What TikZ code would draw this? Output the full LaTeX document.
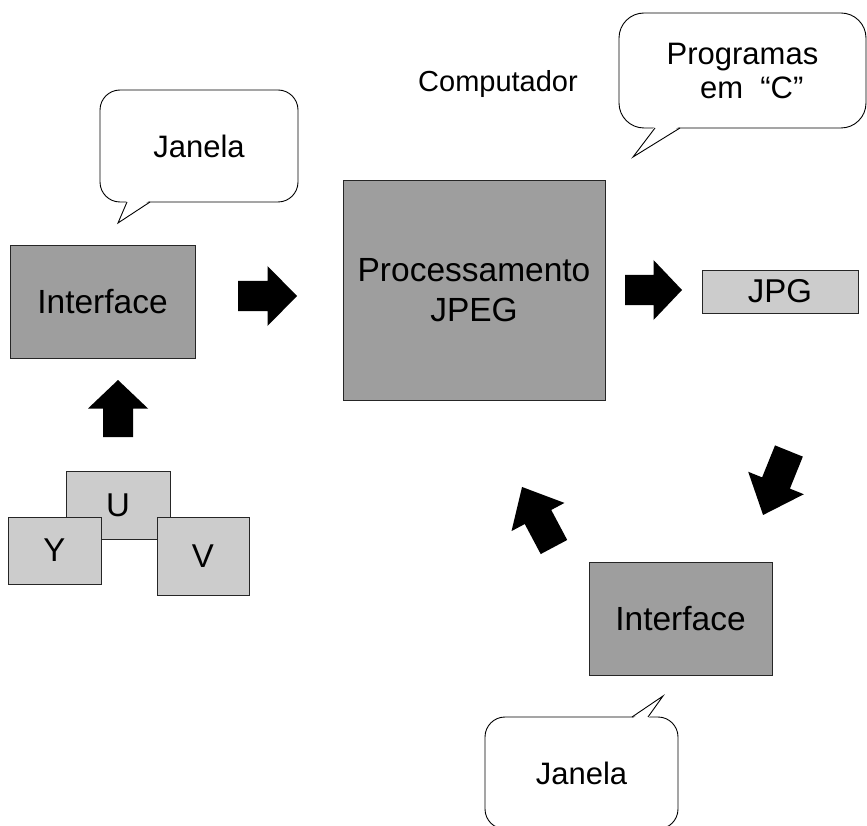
\documentclass[tikz,border=0pt]{standalone}
\usepackage{fontspec}
\setmainfont{Liberation Sans}
\definecolor{darkfill}{gray}{0.62}
\definecolor{lightfill}{gray}{0.80}
\tikzset{
  darkbox/.style={draw=black!85, line width=0.8pt, fill=darkfill, inner sep=0pt,
    font=\fontsize{33.5}{40}\selectfont, align=center},
  lightbox/.style={draw=black!85, line width=0.8pt, fill=lightfill, inner sep=0pt,
    font=\fontsize{33}{38}\selectfont},
  callbox/.style={draw, line width=0.9pt, rounded corners=20pt, fill=white, inner sep=0pt,
    font=\fontsize{31}{34}\selectfont, align=center},
  plaintext/.style={inner sep=0pt, font=\fontsize{29}{34}\selectfont},
  tailline/.style={line width=0.9pt, line join=miter},
  arrowfill/.style={fill=black},
}
% block arrow: name, centre x, centre y, angle, overall length
\newcommand\blockarrow[5]{%
  \begin{scope}[shift={(#2,#3)}, rotate=#4]
    \coordinate (#1) at (0,0);
    \fill[arrowfill] (-#5/2,-15) -- (0,-15) -- (0,-30) -- (#5/2,0)
      -- (0,30) -- (0,15) -- (-#5/2,15) -- cycle;
  \end{scope}}
\begin{document}
\begin{tikzpicture}[x=1pt, y=-1pt]
  \clip (0,0) rectangle (867,826);
  \fill[white] (0,0) rectangle (867,826);

  % main processing block and its label
  \node[plaintext] (comp) at (498,84) {Computador};
  \node[darkbox, minimum width=262pt, minimum height=220pt] (proc) at (474,290)
    {Processamento\\JPEG};

  % callout "Programas em C"
  \node[callbox, rounded corners=25pt, minimum width=247pt, minimum height=115pt]
    (prog) at (742.5,70.5) {Programas\\\hspace*{0.6em}em \ “C”};
  \fill[white] (655,126) -- (633,157) -- (680,126) -- cycle;
  \draw[tailline] (655,128) -- (633,157) -- (680,128);

  % left side: input interface and YUV planes
  \node[darkbox, minimum width=185pt, minimum height=113pt] (ifin) at (102.5,301.5) {Interface};
  \node[callbox, minimum width=198pt, minimum height=112pt] (jan1) at (199,146) {Janela};
  \fill[white] (127,200) -- (118,223) -- (150,200) -- cycle;
  \draw[tailline] (127,202) -- (118,223) -- (150,202);

  \node[lightbox, minimum width=104pt, minimum height=68pt] (u) at (118,505) {U};
  \node[lightbox, minimum width=93pt, minimum height=67pt] (y) at (54.5,550.5) {Y};
  \node[lightbox, minimum width=92pt, minimum height=78pt] (v) at (203,556) {V};

  % output file
  \node[lightbox, minimum width=156pt, minimum height=43pt] (jpg) at (780,291.5) {JPG};

  % output interface with its callout
  \node[darkbox, minimum width=183pt, minimum height=113pt] (ifout) at (680.5,618.5) {Interface};
  \node[callbox, minimum width=193pt, minimum height=112pt] (jan2) at (581.5,773) {Janela};
  \fill[white] (632,719) -- (663,696) -- (648,719) -- cycle;
  \draw[tailline] (632,717) -- (663,696) -- (648,717);

  % flow arrows
  \blockarrow{a1}{267.5}{296}{0}{59}
  \blockarrow{a2}{653.5}{290}{0}{57}
  \blockarrow{a3}{118}{408.5}{90}{57}
  \blockarrow{a4}{538}{517}{118}{68}
  \blockarrow{a5}{776}{483}{-112}{69}
\end{tikzpicture}
\end{document}
